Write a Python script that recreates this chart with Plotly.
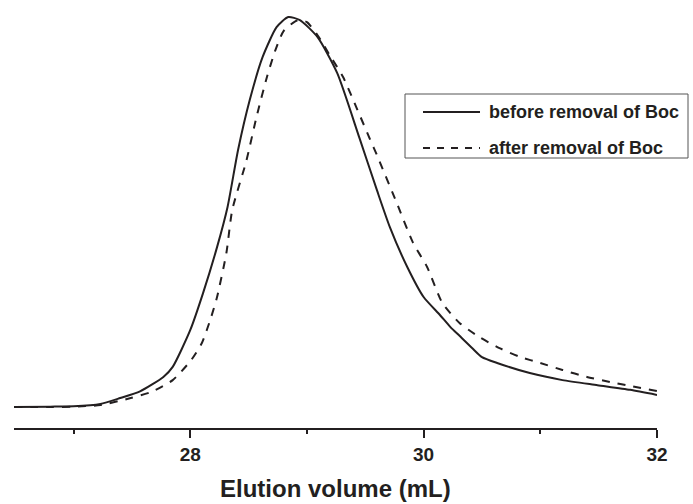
import plotly.graph_objects as go

# ---- data ----
before_x = [26.49, 26.80, 27.00, 27.23, 27.40, 27.57, 27.77, 27.85, 28.00, 28.11, 28.23, 28.32,
            28.41, 28.51, 28.62, 28.74, 28.84, 28.94, 29.09, 29.26, 29.45, 29.60, 29.71, 29.86,
            30.00, 30.14, 30.23, 30.31, 30.42, 30.50, 30.63, 30.91, 31.19, 31.49, 31.77, 32.00]
before_y = [0.000, 0.001, 0.002, 0.008, 0.023, 0.040, 0.077, 0.103, 0.197, 0.292, 0.410, 0.513,
            0.659, 0.787, 0.897, 0.974, 1.000, 0.992, 0.949, 0.856, 0.690, 0.556, 0.462, 0.359,
            0.282, 0.236, 0.205, 0.182, 0.150, 0.128, 0.113, 0.087, 0.069, 0.056, 0.044, 0.031]

after_x = [26.49, 26.80, 27.00, 27.23, 27.49, 27.66, 27.85, 28.01, 28.10, 28.18, 28.23, 28.31,
           28.36, 28.48, 28.57, 28.66, 28.73, 28.80, 28.92, 29.00, 29.09, 29.20, 29.31, 29.43,
           29.54, 29.60, 29.77, 29.91, 30.03, 30.16, 30.31, 30.48, 30.65, 30.83, 31.00, 31.19,
           31.40, 31.60, 31.77, 32.00]
after_y = [0.000, 0.000, 0.001, 0.005, 0.023, 0.038, 0.069, 0.121, 0.164, 0.231, 0.282, 0.395,
           0.505, 0.630, 0.746, 0.849, 0.915, 0.964, 0.992, 0.987, 0.954, 0.900, 0.846, 0.764,
           0.687, 0.646, 0.523, 0.421, 0.359, 0.267, 0.215, 0.179, 0.151, 0.128, 0.113, 0.095,
           0.077, 0.064, 0.054, 0.041]

series_names = ["before removal of Boc", "after removal of Boc"]
tick_vals = [28, 30, 32]
tick_text = ["28", "30", "32"]
x_title = "Elution volume (mL)"

INK = "#231f20"
FONT = "Liberation Sans, Arial, sans-serif"

W, H = 693, 504
ML, MR, MT, MB = 14, 36, 10, 76
PW, PH = W - ML - MR, H - MT - MB


def px(xp):
    return (xp - ML) / PW


def py(yp):
    return (H - MB - yp) / PH


fig = go.Figure()
fig.add_trace(go.Scatter(x=before_x, y=before_y, mode="lines", name=series_names[0],
                         line=dict(color=INK, width=2, shape="spline", smoothing=0.6),
                         showlegend=False))
fig.add_trace(go.Scatter(x=after_x, y=after_y, mode="lines", name=series_names[1],
                         line=dict(color=INK, width=2, dash="8px,8px", shape="spline", smoothing=0.6),
                         showlegend=False))

fig.update_layout(
    width=W, height=H,
    margin=dict(l=ML, r=MR, t=MT, b=MB),
    plot_bgcolor="white", paper_bgcolor="white",
    font=dict(family=FONT, color=INK),
    xaxis=dict(range=[26.49, 32], tickvals=tick_vals, ticktext=tick_text,
               showgrid=False, zeroline=False, showline=True, linecolor=INK, linewidth=2,
               ticks="outside", ticklen=8, tickwidth=2, tickcolor=INK,
               tickfont=dict(family=FONT, size=19, color=INK, weight="bold"),
               minor=dict(dtick=1, tick0=27, ticks="outside", ticklen=4, tickwidth=2,
                          tickcolor=INK, showgrid=False)),
    yaxis=dict(visible=False, range=[-0.0538, 1.018]),
)

# x axis title
fig.add_annotation(text=x_title, xref="paper", yref="paper", x=px(335), y=py(488),
                   xanchor="center", yanchor="middle", showarrow=False,
                   font=dict(family=FONT, size=24, color=INK, weight="bold"))

# legend box
fig.add_shape(type="rect", xref="paper", yref="paper", x0=px(405), x1=px(688), y0=py(158), y1=py(94),
              line=dict(color="#555555", width=1), fillcolor="white", layer="above")
for i, (name, yp) in enumerate(zip(series_names, [112, 148])):
    fig.add_shape(type="line", xref="paper", yref="paper", x0=px(423), x1=px(480), y0=py(yp), y1=py(yp),
                  line=dict(color=INK, width=2, dash="solid" if i == 0 else "7px,7px"), layer="above")
    fig.add_annotation(text=name, xref="paper", yref="paper", x=px(487), y=py(yp),
                       xanchor="left", yanchor="middle", showarrow=False,
                       font=dict(family=FONT, size=18, color=INK, weight="bold"))

fig.write_html("out.html", config={"displayModeBar": False},
               post_script="document.body.style.margin='0';document.body.style.overflow='hidden';")
